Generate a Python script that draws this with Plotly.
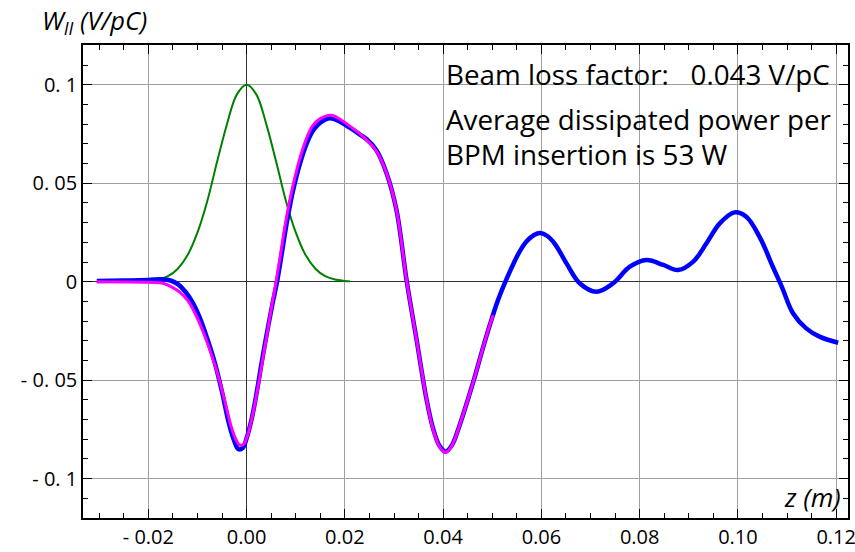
import plotly.graph_objects as go

# ---- data ----
green_x = [-0.030, -0.024, -0.020, -0.018, -0.016, -0.014, -0.012, -0.010, -0.008, -0.006,
           -0.004, -0.002, 0.000, 0.002, 0.004, 0.006, 0.008, 0.010, 0.012, 0.014,
           0.016, 0.018, 0.020, 0.021]
green_y = [0.0000, 0.0001, 0.0004, 0.0011, 0.0028, 0.0066, 0.0135, 0.0250, 0.0410, 0.0610,
           0.0800, 0.0950, 0.1000, 0.0950, 0.0800, 0.0610, 0.0410, 0.0250, 0.0135, 0.0066,
           0.0028, 0.0011, 0.0004, 0.0002]

blue_x = [-0.0305, -0.025, -0.020, -0.017, -0.0155, -0.0140, -0.0125, -0.0110, -0.0095, -0.0080,
          -0.0065, -0.0050, -0.0036, -0.0025, -0.0017, -0.0008, 0.0000, 0.0010, 0.0020, 0.0030,
          0.0041, 0.0052, 0.0062, 0.0072, 0.0081, 0.0090, 0.0098, 0.0108, 0.0122, 0.0136,
          0.0150, 0.0170, 0.0190, 0.0210, 0.0230, 0.0245, 0.0264, 0.0285, 0.0305, 0.0326,
          0.0346, 0.0366, 0.0380, 0.0393, 0.0405, 0.0418, 0.0432, 0.0447, 0.0463, 0.0480,
          0.0495, 0.0510, 0.0525, 0.0540, 0.0555, 0.0570, 0.0585, 0.0598, 0.0612, 0.0628,
          0.0651, 0.0678, 0.0712, 0.0746, 0.0780, 0.0814, 0.0848, 0.0878, 0.0909, 0.0936,
          0.0963, 0.0993, 0.1017, 0.1044, 0.1071, 0.1090, 0.1112, 0.1139, 0.1166, 0.1204]
blue_y = [0.0004, 0.0006, 0.0009, 0.0012, 0.0006, -0.0012, -0.0050, -0.0105, -0.0185, -0.0290,
          -0.0410, -0.0560, -0.0720, -0.0810, -0.0850, -0.0845, -0.0795, -0.0700, -0.0570, -0.0420,
          -0.0265, -0.0120, 0.0000, 0.0150, 0.0290, 0.0410, 0.0500, 0.0595, 0.0700, 0.0770,
          0.0808, 0.0830, 0.0812, 0.0782, 0.0748, 0.0722, 0.0669, 0.0550, 0.0364, 0.0000,
          -0.0296, -0.0595, -0.0750, -0.0835, -0.0862, -0.0830, -0.0740, -0.0625, -0.0495, -0.0345,
          -0.0220, -0.0105, -0.0010, 0.0075, 0.0150, 0.0205, 0.0237, 0.0247, 0.0232, 0.0190,
          0.0093, -0.0008, -0.0051, -0.0008, 0.0076, 0.0110, 0.0085, 0.0059, 0.0102, 0.0195,
          0.0296, 0.0352, 0.0330, 0.0228, 0.0076, -0.0030, -0.0160, -0.0237, -0.0279, -0.0310]

magenta_x = [-0.0305, -0.025, -0.020, -0.017, -0.0150, -0.0135, -0.0120, -0.0105, -0.0090, -0.0075,
             -0.0060, -0.0045, -0.0032, -0.0022, -0.0014, -0.0006, 0.0002, 0.0012, 0.0022, 0.0032,
             0.0041, 0.0050, 0.0060, 0.0070, 0.0079, 0.0088, 0.0096, 0.0106, 0.0120, 0.0134,
             0.0150, 0.0172, 0.0190, 0.0210, 0.0230, 0.0250, 0.0264, 0.0285, 0.0305, 0.0326,
             0.0346, 0.0366, 0.0380, 0.0393, 0.0405, 0.0418, 0.0432, 0.0447, 0.0463, 0.0480,
             0.0495, 0.0502]
magenta_y = [0.0000, -0.0001, -0.0003, -0.0008, -0.0030, -0.0055, -0.0095, -0.0160, -0.0245, -0.0345,
             -0.0460, -0.0600, -0.0730, -0.0800, -0.0830, -0.0825, -0.0780, -0.0680, -0.0550, -0.0405,
             -0.0275, -0.0140, 0.0000, 0.0155, 0.0295, 0.0415, 0.0505, 0.0605, 0.0715, 0.0790,
             0.0828, 0.0845, 0.0825, 0.0790, 0.0752, 0.0705, 0.0664, 0.0550, 0.0364, 0.0000,
             -0.0296, -0.0595, -0.0755, -0.0840, -0.0868, -0.0832, -0.0740, -0.0625, -0.0495, -0.0345,
             -0.0220, -0.0170]

x_tickvals = [-0.02, 0.00, 0.02, 0.04, 0.06, 0.08, 0.10, 0.12]
x_ticktext = ["- 0.02", "0.00", "0.02", "0.04", "0.06", "0.08", "0.10", "0.12"]
y_tickvals = [-0.1, -0.05, 0.0, 0.05, 0.1]
y_ticktext = ["- 0. 1", "- 0. 05", "0", "0. 05", "0. 1"]

FONT = "Open Sans"

fig = go.Figure()
fig.add_trace(go.Scatter(x=green_x, y=green_y, mode="lines",
                         line=dict(color="#008000", width=2, shape="spline", smoothing=1.0),
                         showlegend=False, hoverinfo="skip"))
fig.add_trace(go.Scatter(x=blue_x, y=blue_y, mode="lines",
                         line=dict(color="#0000FF", width=4.5, shape="spline", smoothing=1.0),
                         showlegend=False, hoverinfo="skip"))
fig.add_trace(go.Scatter(x=magenta_x, y=magenta_y, mode="lines",
                         line=dict(color="#FF00FF", width=3, shape="spline", smoothing=1.0),
                         showlegend=False, hoverinfo="skip"))

axis_common = dict(
    showline=True, linecolor="black", linewidth=1.5, mirror="allticks",
    ticks="inside", ticklen=9, tickwidth=1, tickcolor="black",
    showgrid=True, gridcolor="#A0A0A0", gridwidth=1,
    zeroline=True, zerolinecolor="#333333", zerolinewidth=1,
    tickfont=dict(family=FONT, size=20, color="black"),
    automargin=False, ticklabeloverflow="allow",
)

TXT_X = (444 - 83) / 765


def py(px):
    return (518 - px) / 473


fig.update_layout(
    width=855, height=552,
    margin=dict(l=83, r=7, t=45, b=34),
    paper_bgcolor="white", plot_bgcolor="white",
    xaxis=dict(range=[-0.0333, 0.1224], tickvals=x_tickvals, ticktext=x_ticktext,
               minor=dict(dtick=0.005, tick0=0, ticks="inside", ticklen=5, tickcolor="black",
                          showgrid=False),
               **axis_common),
    yaxis=dict(range=[-0.1200, 0.1202], tickvals=y_tickvals, ticktext=y_ticktext,
               minor=dict(dtick=0.01, tick0=0, ticks="inside", ticklen=5, tickcolor="black",
                          showgrid=False),
               **axis_common),
    annotations=[
        dict(text="<i>W<sub>II</sub> (V/pC)</i>", xref="paper", yref="paper", x=-0.056, y=py(21),
             xanchor="left", yanchor="middle", showarrow=False,
             font=dict(family=FONT, size=25.5, color="black")),
        dict(text="<i>z (m)</i>", xref="paper", yref="paper", x=(843 - 83) / 765, y=py(497),
             xanchor="right", yanchor="middle", showarrow=False,
             font=dict(family=FONT, size=26, color="black")),
        dict(text="Beam loss factor:\u00a0\u00a0 0.043 V/pC", xref="paper", yref="paper",
             x=TXT_X, y=py(74), xanchor="left", yanchor="middle", showarrow=False,
             font=dict(family=FONT, size=27.8, color="black")),
        dict(text="Average dissipated power per", xref="paper", yref="paper",
             x=TXT_X, y=py(119), xanchor="left", yanchor="middle", showarrow=False,
             font=dict(family=FONT, size=27.8, color="black")),
        dict(text="BPM insertion is 53 W", xref="paper", yref="paper",
             x=TXT_X, y=py(154), xanchor="left", yanchor="middle", showarrow=False,
             font=dict(family=FONT, size=27.8, color="black")),
    ],
)

fig.write_html("out.html")
